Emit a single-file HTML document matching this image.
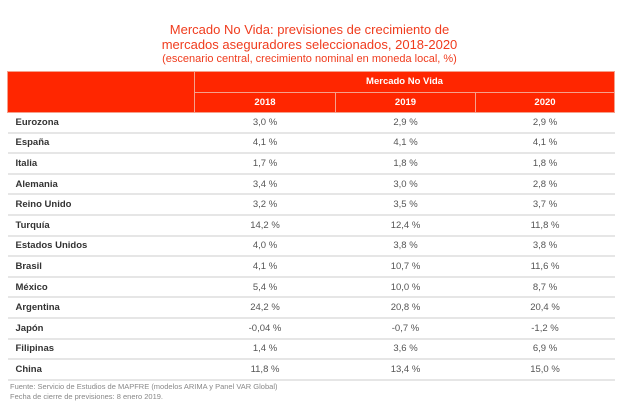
<!DOCTYPE html><html><head><style>
body{margin:0;width:619px;height:407px;background:#fff;font-family:"Liberation Sans",sans-serif;position:relative;overflow:hidden}
.t{position:absolute;left:0;width:619px;text-align:center;color:#f03c1e;font-size:13px}
table{position:absolute;left:7px;top:71px;width:607px;border-collapse:collapse;font-size:9.5px;table-layout:fixed}
th{background:#ff2600;color:#fff;font-weight:bold;border:1px solid #f5a08c;height:19.5px;padding:0}
td{height:18.6px;border-bottom:2px solid #e6e6e6;padding:0;color:#555;text-align:center}
td:first-child{text-align:left;padding-left:8px;color:#333;font-weight:bold}
.f{position:absolute;left:10px;font-size:7.5px;color:#888}
</style></head><body>
<div class="t" style="top:22px">Mercado No Vida: previsiones de crecimiento de</div>
<div class="t" style="top:37px">mercados aseguradores seleccionados, 2018-2020</div>
<div class="t" style="top:53px;font-size:11px">(escenario central, crecimiento nominal en moneda local, %)</div>
<table>
<colgroup><col style="width:187px"><col style="width:141px"><col style="width:140px"><col style="width:139px"></colgroup>
<tr><th rowspan="2"></th><th colspan="3">Mercado No Vida</th></tr>
<tr><th>2018</th><th>2019</th><th>2020</th></tr>
<tr><td>Eurozona</td><td>3,0 %</td><td>2,9 %</td><td>2,9 %</td></tr>
<tr><td>España</td><td>4,1 %</td><td>4,1 %</td><td>4,1 %</td></tr>
<tr><td>Italia</td><td>1,7 %</td><td>1,8 %</td><td>1,8 %</td></tr>
<tr><td>Alemania</td><td>3,4 %</td><td>3,0 %</td><td>2,8 %</td></tr>
<tr><td>Reino Unido</td><td>3,2 %</td><td>3,5 %</td><td>3,7 %</td></tr>
<tr><td>Turquía</td><td>14,2 %</td><td>12,4 %</td><td>11,8 %</td></tr>
<tr><td>Estados Unidos</td><td>4,0 %</td><td>3,8 %</td><td>3,8 %</td></tr>
<tr><td>Brasil</td><td>4,1 %</td><td>10,7 %</td><td>11,6 %</td></tr>
<tr><td>México</td><td>5,4 %</td><td>10,0 %</td><td>8,7 %</td></tr>
<tr><td>Argentina</td><td>24,2 %</td><td>20,8 %</td><td>20,4 %</td></tr>
<tr><td>Japón</td><td>-0,04 %</td><td>-0,7 %</td><td>-1,2 %</td></tr>
<tr><td>Filipinas</td><td>1,4 %</td><td>3,6 %</td><td>6,9 %</td></tr>
<tr><td>China</td><td>11,8 %</td><td>13,4 %</td><td>15,0 %</td></tr>
</table>
<div class="f" style="top:382px">Fuente: Servicio de Estudios de MAPFRE (modelos ARIMA y Panel VAR Global)</div>
<div class="f" style="top:392px">Fecha de cierre de previsiones: 8 enero 2019.</div>
</body></html>
